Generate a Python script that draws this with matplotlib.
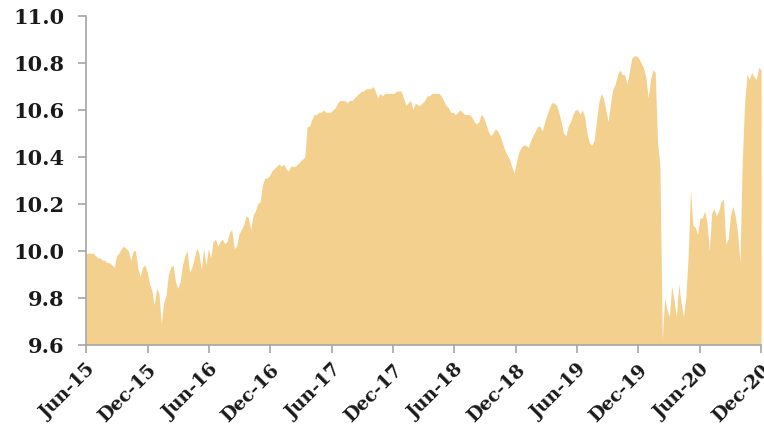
import matplotlib
matplotlib.use("Agg")
import matplotlib.pyplot as plt
import numpy as np
import pandas as pd

# weekly values, starting Jun-2015
start_date = "2015-06-01"
values = [
    9.99, 9.99, 9.99, 9.99, 9.98, 9.97, 9.97, 9.96, 9.96, 9.95,
    9.95, 9.94, 9.93, 9.98, 9.99, 10.01, 10.02, 10.01, 10.00, 9.96,
    10.00, 10.00, 9.93, 9.89, 9.93, 9.94, 9.91, 9.86, 9.83, 9.77,
    9.84, 9.82, 9.69, 9.78, 9.81, 9.90, 9.93, 9.94, 9.87, 9.84,
    9.87, 9.94, 9.98, 10.00, 9.91, 9.93, 9.97, 10.01, 9.99, 9.92,
    10.01, 9.94, 10.01, 9.97, 10.04, 10.05, 10.02, 10.04, 10.05, 10.03,
    10.04, 10.08, 10.09, 10.01, 10.02, 10.07, 10.09, 10.11, 10.15, 10.14,
    10.09, 10.15, 10.17, 10.20, 10.21, 10.28, 10.31, 10.31, 10.32, 10.34,
    10.35, 10.36, 10.37, 10.36, 10.37, 10.35, 10.34, 10.36, 10.36, 10.36,
    10.37, 10.38, 10.39, 10.40, 10.53, 10.53, 10.56, 10.58, 10.58, 10.59,
    10.59, 10.60, 10.59, 10.59, 10.59, 10.60, 10.61, 10.63, 10.64, 10.64,
    10.64, 10.63, 10.64, 10.64, 10.65, 10.66, 10.67, 10.68, 10.68, 10.69,
    10.69, 10.69, 10.70, 10.68, 10.65, 10.67, 10.66, 10.67, 10.67, 10.67,
    10.67, 10.67, 10.68, 10.68, 10.68, 10.65, 10.62, 10.63, 10.64, 10.60,
    10.63, 10.62, 10.62, 10.63, 10.64, 10.66, 10.66, 10.67, 10.67, 10.67,
    10.67, 10.66, 10.64, 10.62, 10.61, 10.59, 10.59, 10.58, 10.59, 10.60,
    10.59, 10.58, 10.58, 10.58, 10.57, 10.55, 10.54, 10.55, 10.58, 10.57,
    10.54, 10.51, 10.49, 10.50, 10.52, 10.51, 10.49, 10.46, 10.43, 10.41,
    10.39, 10.36, 10.33, 10.38, 10.42, 10.44, 10.45, 10.45, 10.44, 10.47,
    10.49, 10.51, 10.53, 10.53, 10.51, 10.55, 10.58, 10.61, 10.63, 10.63,
    10.62, 10.59, 10.55, 10.50, 10.49, 10.53, 10.55, 10.58, 10.60, 10.60,
    10.58, 10.60, 10.57, 10.50, 10.46, 10.45, 10.47, 10.55, 10.63, 10.67,
    10.65, 10.60, 10.55, 10.63, 10.69, 10.71, 10.75, 10.77, 10.75, 10.75,
    10.71, 10.76, 10.82, 10.83, 10.83, 10.82, 10.80, 10.78, 10.74, 10.65,
    10.73, 10.77, 10.76, 10.46, 10.36, 9.62, 9.80, 9.75, 9.72, 9.85,
    9.79, 9.72, 9.86, 9.78, 9.72, 9.80, 9.98, 10.26, 10.11, 10.10,
    10.07, 10.14, 10.14, 10.17, 10.12, 10.00, 10.16, 10.18, 10.15, 10.17,
    10.21, 10.22, 10.03, 10.05, 10.15, 10.19, 10.15, 10.08, 9.95, 10.38,
    10.63, 10.75, 10.73, 10.76, 10.74, 10.73, 10.78, 10.77,
]
dates = pd.date_range(start_date, periods=len(values), freq="7D")

tick_dates = pd.date_range("2015-06-01", "2020-12-01", freq="6MS")
tick_labels = [d.strftime("%b-%y") for d in tick_dates]
y_ticks = [9.6, 9.8, 10.0, 10.2, 10.4, 10.6, 10.8, 11.0]

fill_color = "#F3D08E"
axis_color = "#A6A6A6"
yfont = {"family": "DejaVu Serif", "weight": "bold", "size": 15}
xfont = {"family": "DejaVu Serif", "weight": "bold", "size": 13.5}

fig = plt.figure(figsize=(7.64, 4.30), dpi=100)
ax = fig.add_axes([0.1126, 0.198, 0.884, 0.765])

ax.fill_between(dates, 9.6, values, color=fill_color, linewidth=0)

ax.set_ylim(9.6, 11.0)
ax.set_yticks(y_ticks)
ax.set_yticklabels([f"{v:.1f}" for v in y_ticks], fontdict=yfont)
ax.set_xlim(tick_dates[0], tick_dates[-1])
ax.set_xticks(tick_dates)
ax.set_xticklabels(tick_labels, fontdict=xfont, rotation=45, ha="right",
                   rotation_mode="anchor")

for s in ["top", "right"]:
    ax.spines[s].set_visible(False)
for s in ["left", "bottom"]:
    ax.spines[s].set_color(axis_color)
    ax.spines[s].set_linewidth(1.2)
ax.tick_params(axis="both", color=axis_color, length=5.5, width=1.2,
               labelcolor="#1a1a1a")
ax.tick_params(axis="y", pad=10)
ax.tick_params(axis="x", pad=6)

fig.savefig("out.png", dpi=100)
